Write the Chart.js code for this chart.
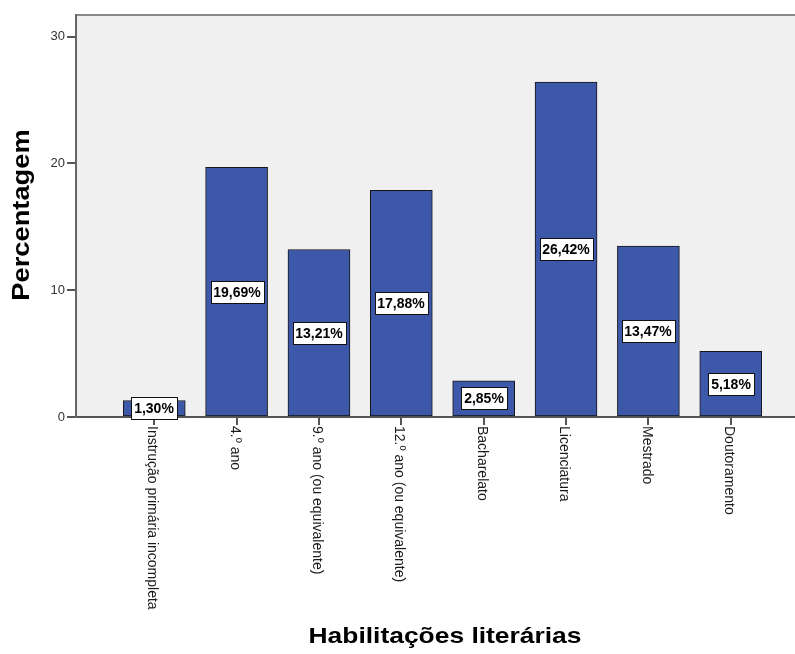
<!DOCTYPE html>
<html>
<head>
<meta charset="utf-8">
<title>Habilitações literárias</title>
<script src="https://cdn.jsdelivr.net/npm/chart.js@4"></script>
<style>
    body { margin: 0; background: #ffffff; }
    canvas { display: block; }
</style>
</head>
<body>
<canvas id="myChart" width="795" height="654"></canvas>
<script>
// Categories and percentages
const categories = [
    'Instrução primária incompleta',
    '4.º ano',
    '9.º ano (ou equivalente)',
    '12.º ano (ou equivalente)',
    'Bacharelato',
    'Licenciatura',
    'Mestrado',
    'Doutoramento'
];
const percentages = [1.30, 19.69, 13.21, 17.88, 2.85, 26.42, 13.47, 5.18];
const yTicks = [0, 10, 20, 30];

const xTitle = 'Habilitações literárias';
const yTitle = 'Percentagem';

document.addEventListener("DOMContentLoaded", function () {
    const ctx = document.getElementById('myChart').getContext('2d');
    const fontFamily = '"Liberation Sans", Arial, sans-serif';

    // grey plot background + top frame line
    const plotBackground = {
        id: 'plotBackground',
        beforeDraw(chart) {
            const { ctx, chartArea } = chart;
            ctx.save();
            ctx.fillStyle = '#f0f0f0';
            ctx.fillRect(chartArea.left, chartArea.top, chartArea.right - chartArea.left, chartArea.bottom - chartArea.top);
            ctx.strokeStyle = '#8a8a8a';
            ctx.lineWidth = 2;
            ctx.beginPath();
            ctx.moveTo(chartArea.left, chartArea.top);
            ctx.lineTo(chartArea.right, chartArea.top);
            ctx.stroke();
            ctx.restore();
        }
    };

    // vertical category labels, axis titles and boxed value labels
    const extras = {
        id: 'extras',
        afterDraw(chart) {
            const { ctx } = chart;
            const xs = chart.scales.x;

            // category labels, rotated clockwise
            ctx.save();
            ctx.fillStyle = '#1a1a1a';
            ctx.font = '14px ' + fontFamily;
            ctx.textAlign = 'left';
            ctx.textBaseline = 'middle';
            categories.forEach((c, i) => {
                const px = xs.getPixelForValue(i + 1);
                ctx.save();
                ctx.translate(px - 2, xs.top + 9);
                ctx.rotate(Math.PI / 2);
                ctx.fillText(c, 0, 0);
                ctx.restore();
            });
            ctx.restore();

            // axis titles (SPSS draws them a bit wide)
            ctx.save();
            ctx.fillStyle = '#000';
            ctx.font = 'bold 22px ' + fontFamily;
            ctx.textAlign = 'center';
            ctx.textBaseline = 'alphabetic';
            ctx.save();
            ctx.translate(445, 643);
            ctx.scale(1.2, 1);
            ctx.fillText(xTitle, 0, 0);
            ctx.restore();
            ctx.save();
            ctx.translate(29, 215);
            ctx.rotate(-Math.PI / 2);
            ctx.scale(1.24, 1.05);
            ctx.fillText(yTitle, 0, 0);
            ctx.restore();
            ctx.restore();

            // value labels in white boxes at the middle of each bar
            const meta = chart.getDatasetMeta(0);
            ctx.save();
            ctx.font = 'bold 14px ' + fontFamily;
            ctx.textAlign = 'center';
            ctx.textBaseline = 'middle';
            meta.data.forEach((bar, i) => {
                const text = percentages[i].toFixed(2).replace('.', ',') + '%';
                const w = Math.round(ctx.measureText(text).width + 6);
                const h = 22;
                const cx = Math.round(bar.x);
                const cy = Math.round((bar.y + bar.base) / 2);
                const bx = Math.round(cx - w / 2) + 0.5;
                const by = Math.round(cy - h / 2) + 0.5;
                ctx.fillStyle = '#ffffff';
                ctx.fillRect(bx, by, w, h);
                ctx.strokeStyle = '#111';
                ctx.lineWidth = 1;
                ctx.strokeRect(bx, by, w, h);
                ctx.fillStyle = '#000';
                ctx.fillText(text, cx, cy + 1);
            });
            ctx.restore();
        }
    };

    new Chart(ctx, {
        type: 'bar',
        data: {
            datasets: [{
                data: categories.map((c, i) => ({ x: i + 1, y: percentages[i] })),
                backgroundColor: '#3d58a8',
                borderColor: '#151515',
                borderWidth: 1,
                borderSkipped: false,
                barThickness: 62
            }]
        },
        options: {
            responsive: false,
            animation: false,
            layout: { padding: { top: 15, right: 0, bottom: 0, left: 0 } },
            plugins: {
                legend: { display: false },
                tooltip: { enabled: false }
            },
            scales: {
                x: {
                    type: 'linear',
                    min: 0.05,
                    max: 8.78,
                    offset: false,
                    afterFit: (scale) => { scale.height = 237; },
                    ticks: {
                        display: false,
                        stepSize: 1,
                        includeBounds: false
                    },
                    grid: {
                        offset: false,
                        drawOnChartArea: false,
                        drawTicks: true,
                        tickLength: 8,
                        color: '#555',
                        lineWidth: 2
                    },
                    border: { color: '#555', width: 2 }
                },
                y: {
                    min: 0,
                    max: 31.7,
                    afterFit: (scale) => { scale.width = 76; },
                    afterBuildTicks: (scale) => {
                        scale.ticks = yTicks.map(v => ({ value: v }));
                    },
                    ticks: {
                        color: '#333',
                        font: { family: fontFamily, size: 13 },
                        padding: 2
                    },
                    grid: {
                        drawOnChartArea: false,
                        drawTicks: true,
                        tickLength: 9,
                        color: '#555',
                        lineWidth: 2
                    },
                    border: { color: '#666', width: 2 }
                }
            }
        },
        plugins: [plotBackground, extras]
    });
});
</script>
</body>
</html>
